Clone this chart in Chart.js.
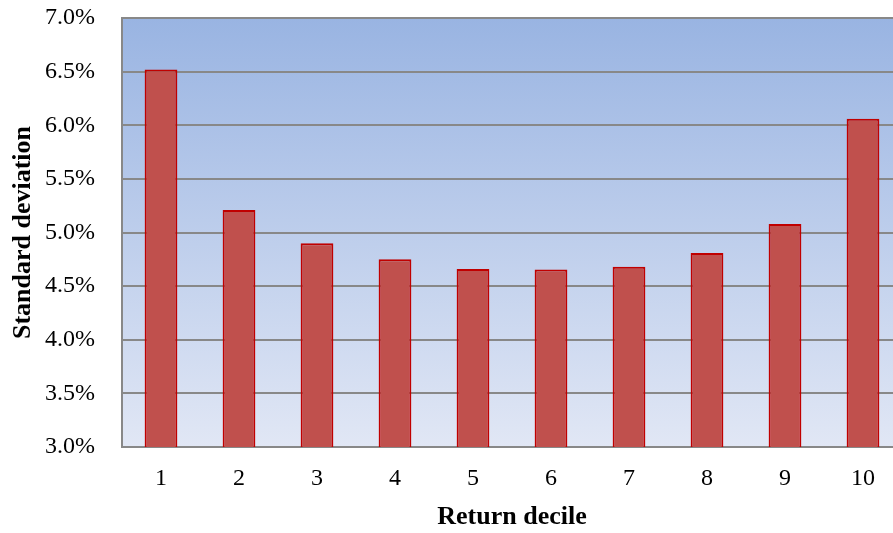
<!DOCTYPE html>
<html>
<head>
<meta charset="utf-8">
<script src="https://cdn.jsdelivr.net/npm/chart.js@4/dist/chart.umd.min.js"></script>
<style>
  html, body { margin: 0; padding: 0; background: #ffffff; overflow: hidden; }
  #wrap { width: 903px; height: 533px; }
</style>
</head>
<body>
<div id="wrap"><canvas id="c" width="903" height="533"></canvas></div>
<script>
// Return deciles and the standard deviation of returns (in %) for each
const deciles = ['1', '2', '3', '4', '5', '6', '7', '8', '9', '10'];
const stdDev = [6.52, 5.21, 4.90, 4.75, 4.66, 4.655, 4.68, 4.81, 5.08, 6.06];
const yMin = 3.0;
const yMax = 7.0;
const yStep = 0.5;

// Vertical blue gradient behind the plot area
const plotBackground = {
  id: 'plotBackground',
  beforeDraw(chart) {
    const { ctx, chartArea: a } = chart;
    const g = ctx.createLinearGradient(0, a.top, 0, a.bottom);
    g.addColorStop(0, '#99b4e2');
    g.addColorStop(1, '#e1e7f5');
    ctx.save();
    ctx.fillStyle = g;
    ctx.fillRect(a.left, a.top, a.right - a.left, a.bottom - a.top);
    ctx.restore();
  }
};

const serif = "'Liberation Serif', 'Times New Roman', serif";

new Chart(document.getElementById('c'), {
  type: 'bar',
  data: {
    labels: deciles,
    datasets: [{
      data: stdDev,
      backgroundColor: '#c0504d',
      borderColor: '#c00000',
      borderWidth: 2,
      barPercentage: 0.42,
      categoryPercentage: 1.0
    }]
  },
  options: {
    responsive: false,
    animation: false,
    devicePixelRatio: 1,
    layout: { padding: { top: 18, right: 1, bottom: 0, left: 0 } },
    plugins: {
      legend: { display: false },
      tooltip: { enabled: false }
    },
    scales: {
      x: {
        grid: { display: false, drawTicks: false },
        border: { color: '#888888', width: 2 },
        ticks: { color: '#000000', font: { family: serif, size: 24 }, padding: 17 },
        title: {
          display: true,
          text: 'Return decile',
          color: '#000000',
          font: { family: serif, size: 26, weight: 'bold' },
          padding: { top: 0, bottom: 0 }
        },
        afterFit(scale) {
          scale.height = 86;
          scale.paddingLeft = 0;
          scale.paddingRight = 0;
        }
      },
      y: {
        min: yMin,
        max: yMax,
        grid: { color: '#888888', lineWidth: 2, drawTicks: false },
        border: { color: '#888888', width: 2 },
        ticks: {
          stepSize: yStep,
          color: '#000000',
          font: { family: serif, size: 24 },
          padding: 27,
          callback: v => v.toFixed(1) + '%'
        },
        title: {
          display: true,
          text: 'Standard deviation',
          color: '#000000',
          font: { family: serif, size: 26, weight: 'bold' },
          padding: { top: 8, bottom: 0 }
        },
        afterFit(scale) {
          scale.width = 122;
          scale.paddingTop = 0;
          scale.paddingBottom = 0;
        }
      }
    }
  },
  plugins: [plotBackground]
});
</script>
</body>
</html>
